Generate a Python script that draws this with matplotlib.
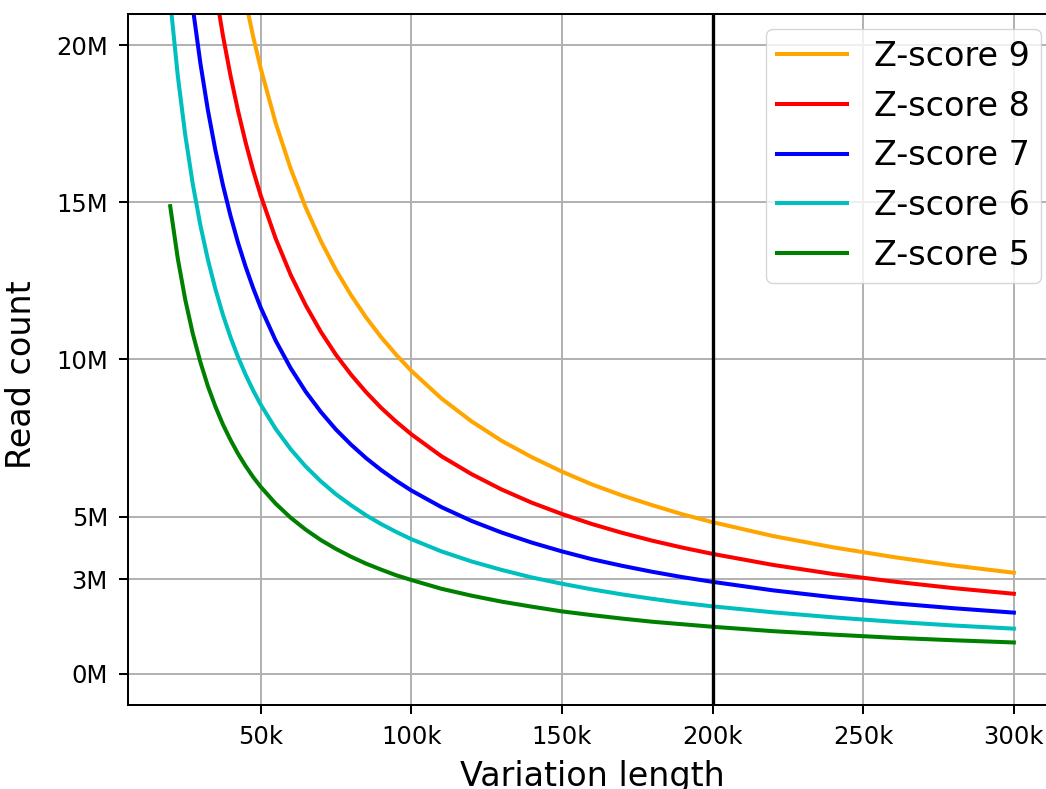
import matplotlib
matplotlib.use("Agg")
import matplotlib.pyplot as plt
from matplotlib.ticker import FuncFormatter

# variation length (in thousands of bases)
lengths_k = [20, 22.5, 25, 27.5, 30, 32.5, 35, 37.5, 40, 42.5, 45, 47.5, 50,
             55, 60, 65, 70, 75, 80, 85, 90, 95, 100,
             110, 120, 130, 140, 150, 160, 170, 180, 190, 200,
             220, 240, 260, 280, 300]

# read counts (in millions) for each z-score curve
reads_z9 = [48.20, 42.84, 38.56, 35.05, 32.13, 29.66, 27.54, 25.70, 24.10, 22.68, 21.42, 20.29, 19.28,
            17.53, 16.07, 14.83, 13.77, 12.85, 12.05, 11.34, 10.71, 10.15, 9.64,
            8.76, 8.03, 7.41, 6.89, 6.43, 6.02, 5.67, 5.36, 5.07, 4.82,
            4.38, 4.02, 3.71, 3.44, 3.21]
reads_z8 = [38.08, 33.85, 30.46, 27.69, 25.39, 23.43, 21.76, 20.31, 19.04, 17.92, 16.92, 16.03, 15.23,
            13.85, 12.69, 11.72, 10.88, 10.15, 9.52, 8.96, 8.46, 8.02, 7.62,
            6.92, 6.35, 5.86, 5.44, 5.08, 4.76, 4.48, 4.23, 4.01, 3.81,
            3.46, 3.17, 2.93, 2.72, 2.54]
reads_z7 = [29.16, 25.92, 23.32, 21.20, 19.44, 17.94, 16.66, 15.55, 14.58, 13.72, 12.96, 12.28, 11.66,
            10.60, 9.72, 8.97, 8.33, 7.77, 7.29, 6.86, 6.48, 6.14, 5.83,
            5.30, 4.86, 4.49, 4.17, 3.89, 3.64, 3.43, 3.24, 3.07, 2.92,
            2.65, 2.43, 2.24, 2.08, 1.94]
reads_z6 = [21.42, 19.04, 17.14, 15.58, 14.28, 13.18, 12.24, 11.42, 10.71, 10.08, 9.52, 9.02, 8.57,
            7.79, 7.14, 6.59, 6.12, 5.71, 5.36, 5.04, 4.76, 4.51, 4.28,
            3.89, 3.57, 3.30, 3.06, 2.86, 2.68, 2.52, 2.38, 2.25, 2.14,
            1.95, 1.79, 1.65, 1.53, 1.43]
reads_z5 = [14.88, 13.22, 11.90, 10.82, 9.92, 9.15, 8.50, 7.93, 7.44, 7.00, 6.61, 6.26, 5.95,
            5.41, 4.96, 4.58, 4.25, 3.97, 3.72, 3.50, 3.31, 3.13, 2.98,
            2.70, 2.48, 2.29, 2.13, 1.98, 1.86, 1.75, 1.65, 1.57, 1.49,
            1.35, 1.24, 1.14, 1.06, 0.99]

series_labels = ["Z-score 9", "Z-score 8", "Z-score 7", "Z-score 6", "Z-score 5"]
series_colors = ["orange", "red", "blue", "c", "green"]
y_ticks_m = [0, 3, 5, 10, 15, 20]
x_ticks_k = [50, 100, 150, 200, 250, 300]
cutoff_k = 200

fig = plt.figure(figsize=(10.46, 7.89), dpi=100)
# axes run past the right edge, as in the cropped original
ax = fig.add_axes([0.1224, 0.1065, 0.8872, 0.8758])

x = [v * 1000 for v in lengths_k]
all_series = [reads_z9, reads_z8, reads_z7, reads_z6, reads_z5]
for ys, lab, col in zip(all_series, series_labels, series_colors):
    ax.plot(x, [v * 1e6 for v in ys], color=col, lw=2.9, label=lab)

ax.axvline(cutoff_k * 1000, color="black", lw=2.4)

ax.set_xlim(6000, 314000)
ax.set_ylim(-1e6, 21e6)
ax.set_xticks([v * 1000 for v in x_ticks_k])
ax.set_yticks([v * 1e6 for v in y_ticks_m])
ax.xaxis.set_major_formatter(FuncFormatter(lambda v, p: f"{int(round(v / 1000))}k"))
ax.yaxis.set_major_formatter(FuncFormatter(lambda v, p: f"{int(round(v / 1e6))}M"))
ax.tick_params(labelsize=17.5, length=6.5, width=1.45, pad=8)
ax.grid(True, color="#b0b0b0", lw=1.4)
for s in ax.spines.values():
    s.set_linewidth(1.45)

ax.set_xlabel("Variation length", fontsize=24, labelpad=8)
ax.set_ylabel("Read count", fontsize=24)
ax.yaxis.set_label_coords(-0.097, 0.478)

leg = ax.legend(loc="upper right", fontsize=24, handlelength=2.1,
                borderpad=0.33, borderaxespad=0.45)
for line in leg.get_lines():
    line.set_linewidth(2.9)

fig.savefig("out.png", dpi=100)
